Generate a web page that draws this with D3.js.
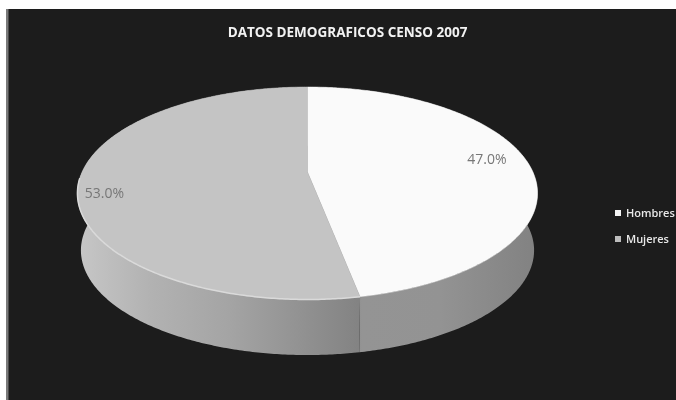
<!DOCTYPE html>
<html>
<head>
<meta charset="utf-8">
<script src="https://cdn.jsdelivr.net/npm/d3@7"></script>
<style>
  html, body { margin: 0; padding: 0; background: #fff; }
  svg { display: block; }
  text { font-family: "Open Sans", sans-serif; }
</style>
</head>
<body>
<div id="chart"></div>
<script>
const title = "DATOS DEMOGRAFICOS CENSO 2007";
const categories = ["Hombres", "Mujeres"];
const shares = [47.0, 53.0];

const topColours = ["#fafafa", "#c4c4c4"];
const legendColours = ["#f4f4f4", "#bdbdbd"];

const width = 676, height = 400;

const svg = d3.select("#chart").append("svg")
    .attr("width", width)
    .attr("height", height)
    .attr("viewBox", [0, 0, width, height]);

// the whole picture is a soft scan, so blur it a little
const defs = svg.append("defs");
defs.append("filter").attr("id", "soft")
    .attr("x", "-5%").attr("y", "-5%").attr("width", "110%").attr("height", "110%")
    .append("feGaussianBlur").attr("stdDeviation", 0.7);

const root = svg.append("g").attr("filter", "url(#soft)");

root.append("rect").attr("width", width).attr("height", height).attr("fill", "#fff");
root.append("rect").attr("x", 6).attr("y", 9).attr("width", width).attr("height", height)
    .attr("fill", "#1c1c1c");
root.append("rect").attr("x", 6).attr("y", 9).attr("width", 2.5).attr("height", height)
    .attr("fill", "#7a7a7a");

// perspective view of a flat disc: the front is nearer so it comes out bigger
const cx = 307.5, k = 0.2;
function project(angle, a, b, cy) {
    const X = Math.sin(angle), Y = -Math.cos(angle);
    const w = 1 - k * Y;
    return [cx + a * X / w, cy + b * Y / w];
}
const topRim = t => project(t, 225.4, 102, 172);
const bottomRim = t => project(t, 222, 100.5, 229.4);

const pie = d3.pie().sort(null).value(d => d);
const arcs = pie(shares);
const line = d3.line();

function samples(a0, a1) {
    const n = Math.ceil((a1 - a0) / 0.01);
    return d3.range(n + 1).map(i => a0 + (a1 - a0) * i / n);
}

// side wall, one gradient per slice
const wallStops = [
    [[352, "#8a8a8a"], [362, "#949494"], [440, "#939393"], [534, "#828282"]],
    [[80, "#c6c6c6"], [150, "#b2b2b2"], [230, "#a4a4a4"], [300, "#929292"], [358, "#838383"]]
];

arcs.forEach((d, i) => {
    const grad = defs.append("linearGradient")
        .attr("id", "wall" + i)
        .attr("gradientUnits", "userSpaceOnUse")
        .attr("x1", 0).attr("x2", width).attr("y1", 0).attr("y2", 0);
    grad.selectAll("stop").data(wallStops[i]).join("stop")
        .attr("offset", s => s[0] / width)
        .attr("stop-color", s => s[1]);

    const ts = samples(d.startAngle, d.endAngle);
    const outline = ts.map(topRim).concat(ts.slice().reverse().map(bottomRim));
    root.append("path")
        .attr("d", line(outline) + "Z")
        .attr("fill", "url(#wall" + i + ")");
});

// top face
const hub = project(0, 0, 0, 172);
root.selectAll("path.slice").data(arcs).join("path")
    .attr("class", "slice")
    .attr("d", d => line([hub].concat(samples(d.startAngle, d.endAngle).map(topRim))) + "Z")
    .attr("fill", (d, i) => topColours[i])
    .attr("stroke", (d, i) => topColours[i])
    .attr("stroke-width", 0.5);

// pale edge along the front of the grey slice
root.append("path")
    .attr("d", line(samples(arcs[1].startAngle, arcs[1].startAngle + 1.7).map(topRim)))
    .attr("fill", "none")
    .attr("stroke", "#dadada")
    .attr("stroke-width", 1.5);

// data labels
const labelPos = [[487, 159], [104.5, 193]];
root.selectAll("text.value").data(shares).join("text")
    .attr("class", "value")
    .attr("x", (d, i) => labelPos[i][0])
    .attr("y", (d, i) => labelPos[i][1])
    .attr("dy", "0.35em")
    .attr("text-anchor", "middle")
    .attr("font-size", 14)
    .attr("fill", "#777")
    .text(d => d3.format(".1f")(d) + "%");

root.append("text")
    .attr("x", 347.5)
    .attr("y", 32)
    .attr("dy", "0.35em")
    .attr("text-anchor", "middle")
    .attr("font-size", 13.5)
    .attr("font-weight", 700)
    .attr("fill", "#f2f2f2")
    .text(title);

// legend
const legendY = d3.scalePoint().domain(categories).range([213, 239]);
const legend = root.selectAll("g.legend").data(categories).join("g")
    .attr("class", "legend")
    .attr("transform", d => `translate(618,${legendY(d)})`);
legend.append("rect")
    .attr("x", -3).attr("y", -3).attr("width", 6).attr("height", 6)
    .attr("fill", (d, i) => legendColours[i]);
legend.append("text")
    .attr("x", 8)
    .attr("dy", "0.35em")
    .attr("font-size", 11)
    .attr("font-weight", 600)
    .attr("fill", "#e8e8e8")
    .text(d => d);
</script>
</body>
</html>
